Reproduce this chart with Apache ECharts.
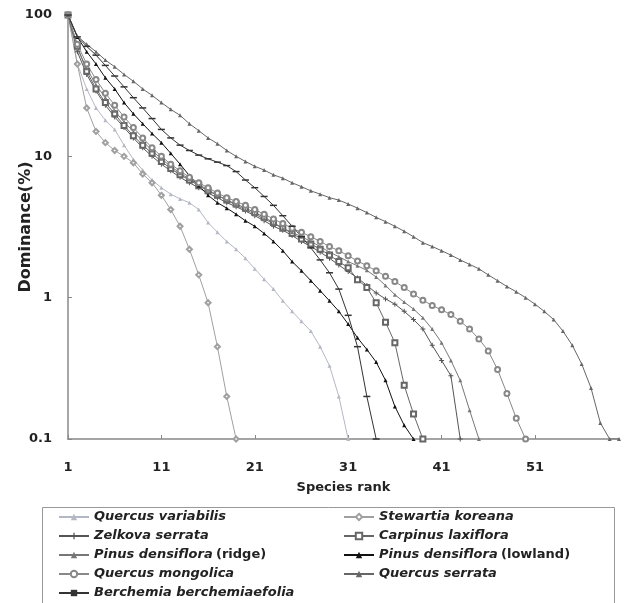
<!DOCTYPE html>
<html>
<head>
<meta charset="utf-8">
<script src="https://cdn.jsdelivr.net/npm/echarts@6/dist/echarts.min.js"></script>
<style>
html,body{margin:0;padding:0;background:#fff;}
#chart{width:627px;height:603px;}
</style>
</head>
<body>
<div id="chart"></div>
<script>
// x-axis tick labels (species rank)
const rankTicks = [1, 11, 21, 31, 41, 51];
// y-axis: dominance (%) on log scale
const yTicks = [0.1, 1, 10, 100];

// Dominance (%) by species rank, one array per stand
const quercusVariabilis = [100, 45, 30, 22, 18, 15.5, 12, 9.5, 8, 6.8, 6, 5.4, 5, 4.7, 4.2, 3.4, 2.9, 2.5, 2.2, 1.9, 1.6, 1.35, 1.15, 0.95, 0.8, 0.68, 0.58, 0.45, 0.33, 0.2, 0.1];
const stewartiaKoreana = [100, 45, 22, 15, 12.5, 11, 10, 9, 7.5, 6.5, 5.3, 4.2, 3.2, 2.2, 1.45, 0.92, 0.45, 0.2, 0.1];
const zelkovaSerrata = [100, 55, 38, 29, 23, 19, 16, 13.5, 11.5, 10, 8.8, 7.9, 7.1, 6.5, 6, 5.5, 5.1, 4.7, 4.4, 4.1, 3.8, 3.5, 3.2, 3.0, 2.75, 2.5, 2.3, 2.1, 1.9, 1.7, 1.53, 1.38, 1.22, 1.08, 0.98, 0.9, 0.8, 0.7, 0.6, 0.46, 0.36, 0.28, 0.1];
const carpinusLaxiflora = [100, 60, 40, 30, 24, 20, 16.5, 14, 12, 10.5, 9.2, 8.2, 7.4, 6.8, 6.2, 5.7, 5.3, 4.9, 4.6, 4.3, 4.0, 3.7, 3.4, 3.1, 2.85, 2.6, 2.4, 2.2, 2.0, 1.8, 1.63, 1.34, 1.18, 0.92, 0.67, 0.48, 0.24, 0.15, 0.1];
const pinusRidge = [100, 58, 42, 32, 26, 21, 17.5, 15, 12.8, 11, 9.6, 8.5, 7.6, 6.9, 6.3, 5.8, 5.3, 4.9, 4.5, 4.2, 3.9, 3.6, 3.35, 3.1, 2.9, 2.7, 2.5, 2.3, 2.1, 1.95, 1.8, 1.68, 1.56, 1.4, 1.22, 1.05, 0.93, 0.83, 0.72, 0.6, 0.48, 0.36, 0.26, 0.16, 0.1];
const pinusLowland = [100, 70, 55, 45, 36, 30, 24, 20, 17, 14.5, 12.5, 10.5, 8.8, 7.3, 6.2, 5.3, 4.7, 4.3, 3.9, 3.5, 3.2, 2.85, 2.5, 2.15, 1.8, 1.55, 1.32, 1.12, 0.95, 0.8, 0.65, 0.52, 0.43, 0.35, 0.26, 0.17, 0.125, 0.1];
const quercusMongolica = [100, 62, 45, 35, 28, 23, 19, 16, 13.5, 11.5, 10, 8.8, 7.9, 7.1, 6.5, 6, 5.5, 5.1, 4.8, 4.5, 4.2, 3.9, 3.6, 3.35, 3.1, 2.9, 2.7, 2.5, 2.3, 2.15, 1.98, 1.82, 1.68, 1.55, 1.42, 1.3, 1.18, 1.06, 0.96, 0.88, 0.82, 0.76, 0.68, 0.6, 0.51, 0.42, 0.31, 0.21, 0.14, 0.1];
const quercusSerrata = [100, 71, 62, 55, 48, 43, 38, 34, 30, 27, 24, 21.5, 19.5, 17, 15.2, 13.5, 12.3, 11, 10, 9.2, 8.5, 8, 7.4, 7, 6.5, 6.1, 5.7, 5.4, 5.1, 4.9, 4.6, 4.3, 4.0, 3.7, 3.45, 3.2, 2.95, 2.7, 2.45, 2.3, 2.15, 2.0, 1.85, 1.72, 1.6, 1.45, 1.32, 1.2, 1.1, 1.0, 0.9, 0.8, 0.7, 0.58, 0.46, 0.34, 0.23, 0.13, 0.1, 0.1];
const berchemia = [100, 70, 60, 52, 44, 37, 31, 26, 22, 18.5, 15.5, 13.5, 12, 11, 10.2, 9.6, 9.1, 8.6, 7.8, 6.8, 6, 5.2, 4.5, 3.8, 3.2, 2.7, 2.25, 1.85, 1.5, 1.15, 0.75, 0.45, 0.2, 0.1];

const FONT = 'DejaVu Sans, Verdana, sans-serif';
const crossSym = 'path://M4,0H6V4H10V6H6V10H4V6H0V4H4Z';
const dashSym = 'path://M0,0H10V2H0Z';

function pts(arr) { return arr.map((v, i) => [i + 1, v]); }

function mk(name, arr, color, symbol, size) {
  return {
    name: name,
    type: 'line',
    data: pts(arr),
    symbol: symbol,
    symbolSize: size,
    showSymbol: true,
    animation: false,
    lineStyle: { color: color, width: 1 },
    itemStyle: { color: color, borderWidth: 1 },
    emphasis: { disabled: true },
    z: 2
  };
}

const rich = {
  i: { fontStyle: 'italic', fontWeight: 'bold', fontSize: 13, fontFamily: FONT, color: '#222' },
  n: { fontStyle: 'normal', fontWeight: 'bold', fontSize: 13, fontFamily: FONT, color: '#222' }
};
function legendFmt(name) {
  const m = name.match(/^(.*?)\s*(\(.*\))$/);
  if (m) return '{i|' + m[1] + '} {n|' + m[2] + '}';
  return '{i|' + name + '}';
}

const legendBase = {
  orient: 'vertical',
  top: 510,
  height: 120,
  padding: 0,
  itemWidth: 30,
  itemHeight: 8,
  itemGap: 5,
  selectedMode: false,
  formatter: legendFmt,
  textStyle: { rich: rich, lineHeight: 14 }
};

const chart = echarts.init(document.getElementById('chart'));
chart.setOption({
  backgroundColor: '#fff',
  animation: false,
  grid: { left: 68, right: 8, top: 15, bottom: 164, containLabel: false, outerBoundsMode: 'none' },
  xAxis: {
    type: 'value',
    min: 1,
    max: 60,
    name: 'Species rank',
    nameLocation: 'middle',
    nameGap: 42,
    nameMoveOverlap: false,
    nameTextStyle: { fontWeight: 'bold', fontSize: 13, color: '#222', fontFamily: FONT },
    axisLine: { lineStyle: { color: '#888', width: 1.5 } },
    axisTick: { show: true, inside: true, length: 4, customValues: rankTicks, lineStyle: { color: '#888' } },
    axisLabel: { customValues: rankTicks, margin: 22, fontWeight: 'bold', fontSize: 13, color: '#222', fontFamily: FONT },
    splitLine: { show: false }
  },
  yAxis: {
    type: 'log',
    logBase: 10,
    min: 0.1,
    max: 100,
    name: 'Dominance(%)',
    nameLocation: 'middle',
    nameGap: 34,
    nameMoveOverlap: false,
    nameTextStyle: { fontWeight: 'bold', fontSize: 16, color: '#222', fontFamily: FONT },
    axisLine: { show: true, lineStyle: { color: '#888', width: 1.5 } },
    axisTick: { show: true, inside: true, length: 4, lineStyle: { color: '#888' } },
    axisLabel: {
      margin: 16, fontWeight: 'bold', fontSize: 13, color: '#222', fontFamily: FONT,
      formatter: function (v) {
        for (const t of yTicks) { if (Math.abs(v - t) < 1e-9) return String(t); }
        return '';
      }
    },
    splitLine: { show: false }
  },
  legend: [
    Object.assign({}, legendBase, {
      left: 58,
      data: ['Quercus variabilis', 'Zelkova serrata', 'Pinus densiflora (ridge)', 'Quercus mongolica', 'Berchemia berchemiaefolia']
    }),
    Object.assign({}, legendBase, {
      left: 343,
      data: ['Stewartia koreana', 'Carpinus laxiflora', 'Pinus densiflora (lowland)', 'Quercus serrata']
    })
  ],
  graphic: [{
    type: 'rect',
    left: 40, top: 505,
    shape: { x: 0, y: 0, width: 572, height: 110 },
    style: { fill: 'none', stroke: '#999', lineWidth: 1 },
    silent: true
  }],
  series: [
    mk('Quercus variabilis', quercusVariabilis, '#b4b8c4', 'triangle', 4),
    mk('Stewartia koreana', stewartiaKoreana, '#a0a0a0', 'emptyDiamond', 5),
    mk('Zelkova serrata', zelkovaSerrata, '#555', crossSym, 5),
    mk('Carpinus laxiflora', carpinusLaxiflora, '#666', 'emptyRect', 5),
    mk('Pinus densiflora (ridge)', pinusRidge, '#777', 'triangle', 4),
    mk('Pinus densiflora (lowland)', pinusLowland, '#111', 'triangle', 4),
    mk('Quercus mongolica', quercusMongolica, '#888', 'emptyCircle', 5),
    mk('Quercus serrata', quercusSerrata, '#666', 'triangle', 4),
    mk('Berchemia berchemiaefolia', berchemia, '#333', dashSym, [7, 1.5])
  ]
});
</script>
</body>
</html>
